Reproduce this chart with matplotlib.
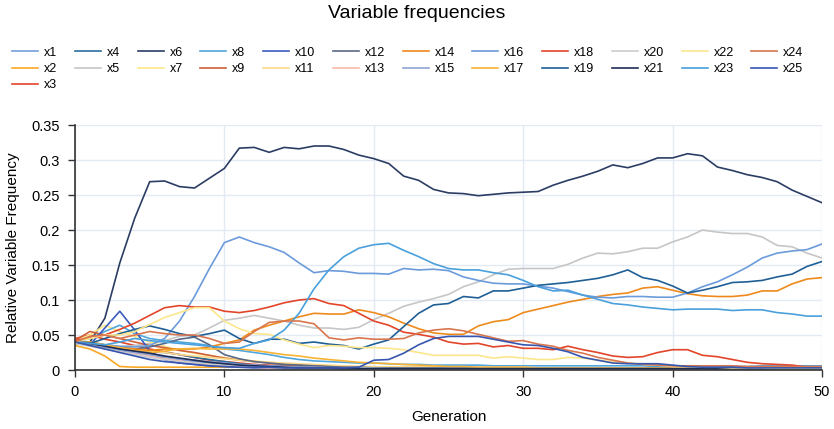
import matplotlib
matplotlib.use("Agg")
import matplotlib.pyplot as plt
from matplotlib.ticker import FuncFormatter
import numpy as np

plt.rcParams['font.family'] = ['Liberation Sans', 'DejaVu Sans']

# generations 0..50
generations = list(range(51))

# relative frequencies (in thousandths)
x1 = [40, 37, 33, 30, 26, 22, 18, 15, 12, 10, 8,
      6, 5, 4, 4, 3, 3, 3, 2, 2, 2,
      2, 2, 2, 2, 2, 2, 2, 2, 2, 2,
      2, 2, 2, 2, 2, 2, 2, 2, 2, 2,
      2, 2, 2, 2, 2, 2, 2, 2, 2, 2]
x2 = [35, 30, 20, 5, 4, 4, 4, 4, 4, 4, 4,
      4, 4, 4, 4, 4, 4, 4, 4, 4, 4,
      4, 4, 4, 4, 3, 3, 3, 3, 3, 3,
      3, 3, 3, 3, 3, 3, 3, 3, 3, 3,
      3, 3, 3, 3, 3, 3, 3, 3, 3, 3]
x3 = [45, 50, 44, 40, 35, 30, 26, 22, 18, 14, 12,
      10, 8, 7, 6, 5, 4, 4, 3, 3, 3,
      3, 3, 3, 3, 3, 3, 3, 3, 3, 3,
      3, 3, 3, 3, 3, 3, 3, 3, 3, 3,
      2, 2, 2, 2, 2, 2, 2, 2, 2, 2]
x4 = [40, 36, 33, 30, 28, 26, 25, 22, 18, 15, 12,
      9, 7, 6, 5, 4, 4, 3, 3, 3, 3,
      2, 2, 2, 2, 2, 2, 2, 2, 2, 2,
      2, 2, 2, 2, 2, 2, 2, 2, 2, 2,
      2, 2, 2, 2, 2, 2, 2, 2, 2, 2]
x5 = [40, 38, 35, 33, 35, 38, 42, 48, 50, 60, 71,
      74, 78, 74, 70, 64, 60, 60, 58, 61, 72,
      81, 91, 97, 102, 108, 119, 126, 136, 144, 145,
      145, 145, 151, 160, 167, 166, 169, 174, 174, 183,
      190, 200, 197, 195, 195, 190, 178, 176, 167, 160]
x6 = [38, 40, 74, 153, 217, 269, 270, 262, 260, 274, 288,
      317, 318, 311, 318, 316, 320, 320, 315, 307, 302,
      295, 277, 271, 258, 253, 252, 249, 251, 253, 254,
      255, 264, 271, 277, 284, 293, 289, 295, 303, 303,
      309, 306, 290, 285, 279, 275, 269, 257, 248, 239]
x7 = [42, 50, 64, 55, 48, 40, 34, 28, 24, 20, 18,
      15, 13, 11, 9, 8, 7, 6, 5, 5, 4,
      4, 4, 3, 3, 3, 3, 3, 3, 3, 3,
      3, 3, 3, 3, 2, 2, 2, 2, 2, 2,
      2, 2, 2, 2, 2, 2, 2, 2, 2, 2]
x8 = [40, 45, 55, 64, 52, 45, 42, 40, 38, 35, 30,
      28, 25, 22, 18, 15, 13, 12, 11, 10, 10,
      9, 8, 8, 7, 7, 7, 7, 6, 6, 6,
      6, 6, 6, 6, 6, 6, 6, 6, 5, 5,
      5, 5, 5, 5, 5, 6, 6, 6, 6, 6]
x9 = [42, 55, 50, 45, 40, 35, 32, 28, 25, 21, 17,
      14, 12, 10, 8, 7, 6, 5, 5, 4, 4,
      3, 3, 3, 3, 3, 3, 3, 3, 3, 3,
      3, 3, 3, 3, 3, 3, 3, 3, 3, 3,
      3, 3, 3, 3, 3, 3, 3, 3, 3, 3]
x10 = [38, 36, 60, 84, 57, 27, 15, 10, 8, 6, 5,
       4, 3, 3, 2, 2, 2, 2, 2, 2, 2,
       2, 2, 2, 2, 2, 2, 2, 2, 2, 2,
       1, 1, 1, 1, 1, 1, 1, 1, 1, 1,
       1, 1, 1, 1, 1, 1, 1, 1, 1, 1]
x11 = [38, 38, 36, 33, 30, 27, 25, 22, 20, 18, 16,
       14, 12, 11, 10, 9, 8, 7, 6, 5, 5,
       4, 4, 4, 4, 4, 4, 4, 4, 4, 4,
       3, 3, 3, 3, 3, 3, 3, 3, 3, 3,
       3, 3, 3, 3, 3, 3, 3, 3, 3, 3]
x12 = [40, 40, 36, 32, 30, 33, 38, 44, 47, 36, 22,
       16, 12, 10, 8, 7, 6, 5, 4, 4, 3,
       3, 3, 3, 3, 3, 3, 3, 3, 3, 3,
       3, 3, 3, 3, 3, 3, 3, 3, 3, 3,
       3, 3, 3, 3, 3, 3, 3, 3, 3, 3]
x13 = [40, 36, 32, 28, 24, 20, 16, 13, 10, 8, 6,
       5, 4, 3, 3, 2, 2, 2, 2, 2, 1,
       1, 1, 1, 1, 1, 1, 1, 1, 1, 1,
       1, 1, 1, 1, 1, 1, 1, 1, 1, 1,
       1, 1, 1, 1, 1, 1, 1, 1, 1, 1]
x14 = [40, 37, 35, 33, 30, 28, 30, 30, 30, 33, 38,
       43, 57, 64, 70, 76, 81, 80, 80, 86, 82,
       76, 67, 59, 53, 51, 51, 63, 69, 72, 82,
       87, 92, 97, 101, 105, 108, 110, 117, 119, 114,
       109, 106, 105, 105, 107, 113, 113, 123, 130, 132]
x15 = [38, 35, 32, 28, 25, 22, 19, 16, 14, 12, 10,
       8, 7, 6, 5, 4, 4, 3, 3, 3, 3,
       2, 2, 2, 2, 2, 2, 2, 2, 2, 2,
       2, 2, 2, 2, 2, 2, 2, 2, 2, 2,
       2, 2, 2, 2, 2, 2, 2, 2, 2, 2]
x16 = [40, 38, 36, 34, 33, 35, 45, 70, 105, 145, 182,
       190, 182, 176, 168, 153, 139, 142, 141, 138, 138,
       137, 145, 143, 144, 142, 133, 128, 124, 123, 123,
       120, 117, 112, 107, 104, 103, 105, 105, 104, 104,
       110, 119, 126, 136, 147, 160, 167, 170, 172, 180]
x17 = [38, 40, 36, 32, 28, 25, 27, 30, 31, 30, 30,
       30, 28, 25, 22, 20, 17, 15, 13, 11, 10,
       9, 8, 7, 6, 5, 5, 4, 4, 4, 4,
       3, 3, 3, 3, 3, 3, 3, 3, 3, 3,
       3, 3, 3, 3, 3, 3, 3, 3, 3, 3]
x18 = [42, 46, 50, 58, 67, 78, 89, 92, 90, 90, 84,
       82, 85, 90, 96, 100, 102, 95, 92, 81, 70,
       64, 54, 51, 47, 40, 37, 38, 33, 35, 31,
       31, 29, 34, 29, 25, 20, 18, 19, 25, 29,
       29, 21, 19, 15, 11, 9, 8, 7, 4, 4]
x19 = [40, 38, 45, 52, 58, 63, 58, 52, 48, 52, 57,
       45, 38, 44, 44, 38, 40, 37, 35, 30, 37,
       43, 62, 81, 93, 95, 105, 103, 113, 113, 117,
       121, 123, 125, 128, 131, 136, 143, 132, 128, 120,
       110, 114, 119, 125, 126, 128, 133, 137, 148, 155]
x20 = [38, 34, 30, 26, 22, 18, 15, 12, 10, 8, 7,
       6, 5, 4, 4, 3, 3, 3, 3, 3, 2,
       2, 2, 2, 2, 2, 2, 2, 2, 2, 2,
       2, 2, 2, 2, 2, 2, 2, 2, 2, 2,
       2, 2, 2, 2, 2, 2, 2, 2, 2, 2]
x21 = [40, 38, 34, 30, 27, 24, 20, 17, 14, 11, 9,
       7, 6, 5, 4, 3, 3, 3, 2, 2, 2,
       2, 2, 2, 2, 2, 2, 2, 2, 2, 2,
       2, 2, 2, 2, 2, 2, 2, 2, 2, 2,
       2, 2, 2, 2, 2, 2, 2, 2, 2, 2]
x22 = [40, 45, 50, 50, 55, 65, 75, 82, 89, 89, 70,
       59, 52, 51, 43, 37, 32, 35, 34, 32, 32,
       31, 29, 25, 21, 21, 21, 21, 17, 19, 17,
       15, 15, 18, 17, 14, 12, 10, 8, 7, 5,
       5, 4, 4, 3, 3, 3, 2, 2, 2, 2]
x23 = [40, 38, 36, 40, 45, 42, 40, 38, 36, 34, 32,
       31, 38, 43, 57, 81, 116, 143, 162, 174, 179,
       181, 171, 162, 152, 145, 143, 143, 139, 136, 128,
       119, 113, 114, 107, 101, 95, 93, 90, 88, 86,
       87, 87, 87, 85, 86, 86, 82, 80, 77, 77]
x24 = [40, 48, 50, 45, 50, 55, 52, 50, 50, 45, 38,
       40, 55, 68, 70, 70, 66, 46, 43, 46, 44,
       44, 45, 53, 57, 59, 56, 51, 46, 41, 42,
       37, 34, 28, 24, 18, 14, 10, 8, 7, 6,
       6, 6, 6, 6, 5, 5, 5, 5, 5, 5]
x25 = [40, 35, 30, 25, 20, 15, 12, 10, 8, 6, 5,
       4, 4, 4, 3, 3, 3, 3, 3, 4, 14,
       15, 24, 36, 45, 48, 48, 48, 44, 40, 36,
       35, 31, 26, 18, 14, 10, 9, 9, 9, 7,
       5, 4, 4, 4, 3, 3, 3, 3, 3, 3]

series = [x1, x2, x3, x4, x5, x6, x7, x8, x9, x10, x11, x12, x13,
          x14, x15, x16, x17, x18, x19, x20, x21, x22, x23, x24, x25]
names = ['x%d' % (i + 1) for i in range(len(series))]
colors = ['#74a0dc', '#f9a825', '#e4442a', '#2a6ea0', '#c6c6c6',
          '#2b3d63', '#fde68a', '#4fa7de', '#d0603a', '#3c5bbf',
          '#fcd98a', '#5a6887', '#f7b9aa', '#ee8a1c', '#8fa6d6',
          '#6b9bdb', '#f8b336', '#e2452a', '#1f5f96', '#cccccc',
          '#1f2d56', '#fce68c', '#4aa0dc', '#d8764e', '#3656b0']

fig = plt.figure(figsize=(8.34, 4.29), dpi=100)
ax = fig.add_axes([0.0899, 0.1375, 0.8957, 0.5711])

for name, vals, col in zip(names, series, colors):
    ax.plot(generations, np.array(vals) / 1000.0, color=col, lw=1.2, label=name)

ax.set_xlim(0, 50)
ax.set_ylim(0, 0.35)
ax.set_xticks([0, 10, 20, 30, 40, 50])
ax.set_yticks([0, 0.05, 0.1, 0.15, 0.2, 0.25, 0.3, 0.35])
ax.yaxis.set_major_formatter(FuncFormatter(lambda v, p: '%g' % round(v, 2)))
ax.grid(True, color='#e3eaf4', lw=1.0)
ax.set_axisbelow(True)
for s in ['top', 'right']:
    ax.spines[s].set_visible(False)
for s in ['left', 'bottom']:
    ax.spines[s].set_color('#333333')
    ax.spines[s].set_linewidth(1.2)
ax.tick_params(axis='both', labelsize=10.5, length=5, width=1, color='#333333', pad=6)

ax.set_xlabel('Generation', fontsize=11, labelpad=8)
ax.set_ylabel('Relative Variable Frequency', fontsize=11, labelpad=8)

fig.suptitle('Variable frequencies', fontsize=14, y=0.988)
fig.legend(loc='upper left', bbox_to_anchor=(0.0144, 0.891), ncol=12, frameon=False,
           fontsize=9, handlelength=2.08, handletextpad=0.48, columnspacing=1.4,
           labelspacing=0.33, borderaxespad=0, borderpad=0)

fig.savefig('out.png', dpi=100)
